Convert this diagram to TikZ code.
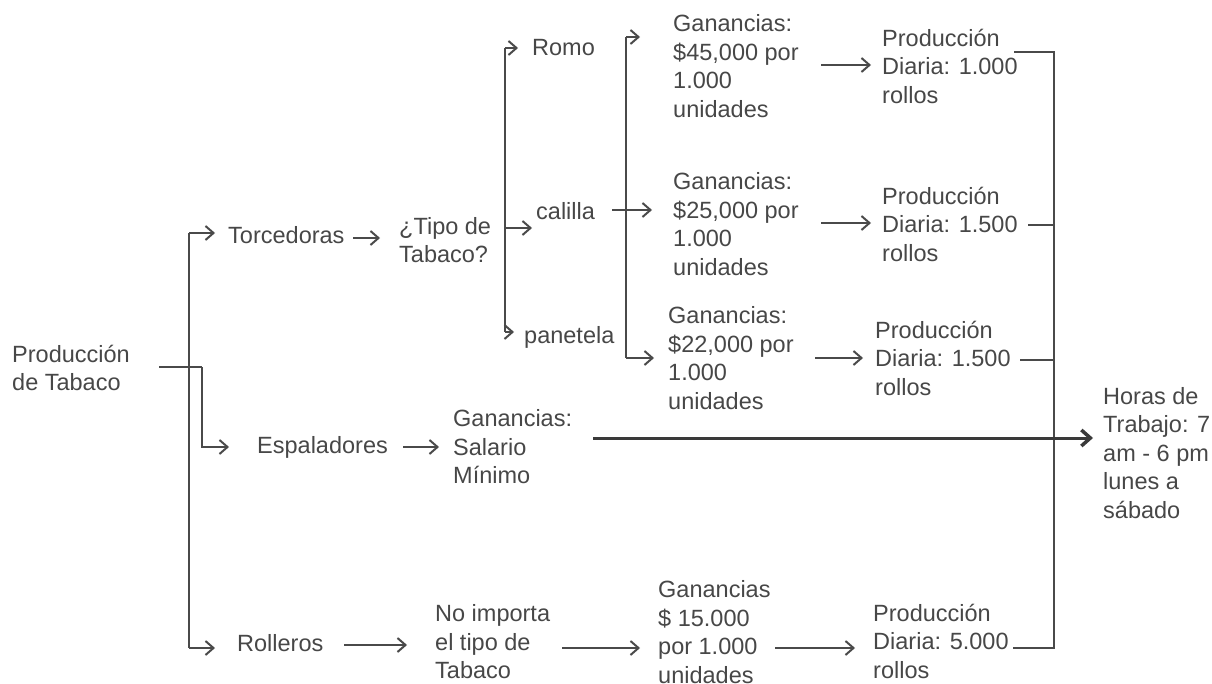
\documentclass[tikz,border=0pt]{standalone}
\usepackage{fontspec}
\setmainfont{Liberation Sans}
\usetikzlibrary{arrows.meta}
\definecolor{tc}{HTML}{474747}
\definecolor{lc}{HTML}{4A4A4A}
\definecolor{dc}{HTML}{3A3A3A}
\tikzset{
  txt/.style={anchor=west, align=left, inner sep=0pt, text=tc,
    font=\fontsize{23.5}{28.5}\selectfont},
  ln/.style={draw=lc, line width=2pt},
  arr/.style={ln, -{Straight Barb[length=8pt,width=14pt,line width=2pt]}},
  bigarr/.style={draw=dc, line width=3pt, -{Straight Barb[length=9pt,width=16pt,line width=3.5pt]}}
}
\begin{document}
\begin{tikzpicture}[x=1pt,y=-1pt]
\useasboundingbox (0,0) rectangle (1212,684);

% nodes
\node[txt] (root) at (12,368) {Producción\\de Tabaco};
\node[txt] (torc) at (228,235) {Torcedoras};
\node[txt] (tipo) at (399,240) {¿Tipo de\\Tabaco?};
\node[txt] (romo) at (532,48) {Romo};
\node[txt] (cal) at (536,211) {calilla};
\node[txt] (pan) at (524,337) {panetela};
\node[txt] (g45) at (673,66) {Ganancias:\\\$45,000 por\\1.000\\unidades};
\node[txt] (g25) at (673,224) {Ganancias:\\\$25,000 por\\1.000\\unidades};
\node[txt] (g22) at (668,358) {Ganancias:\\\$22,000 por\\1.000\\unidades};
\node[txt] (p1) at (882,66) {Producción\\Diaria: 1.000\\rollos};
\node[txt] (p2) at (882,224) {Producción\\Diaria: 1.500\\rollos};
\node[txt] (p3) at (875,358) {Producción\\Diaria: 1.500\\rollos};
\node[txt] (esp) at (257,447) {Espaladores};
\node[txt] (gsal) at (453,447) {Ganancias:\\Salario\\Mínimo};
\node[txt] (horas) at (1103,453) {Horas de\\Trabajo: 7\\am - 6 pm\\lunes a\\sábado};
\node[txt] (roll) at (237,643) {Rolleros};
\node[txt] (noimp) at (435,642) {No importa\\el tipo de\\Tabaco};
\node[txt] (g15) at (658,632) {Ganancias\\\$ 15.000\\por 1.000\\unidades};
\node[txt] (p5) at (873,641) {Producción\\Diaria: 5.000\\rollos};

% junction coordinates
\coordinate (r0) at (159,367);
\coordinate (vt) at (189,233);
\coordinate (vb) at (189,648);
\coordinate (ve) at (202,367);
\coordinate (b2t) at (505,48);
\coordinate (b2m) at (505,228);
\coordinate (b2b) at (505,332);
\coordinate (b3t) at (626,37);
\coordinate (b3b) at (626,358);
\coordinate (rt) at (1054,52);
\coordinate (rb) at (1054,648);

% root fan-out
\draw[ln] (r0) -- (ve);
\draw[ln] (vt) -- (vb);
\draw[arr] (vt) -- ++(26,0);
\draw[arr] (vb) -- ++(26,0);
\draw[arr] (ve) -- (ve |- esp.west) -- ++(27,0);

% Torcedoras branch
\draw[arr] (353,238) -- (380,238);
\draw[ln] (b2t) -- (b2b);
\draw[arr] (b2t) -- ++(13,0);
\draw[arr] (b2m) -- ++(27,0);
\draw[arr] (b2b) -- ++(9,0);

\draw[arr] (612,210) -- (652,210);
\draw[ln] (b3t) -- (b3b);
\draw[arr] (b3t) -- ++(14,0);
\draw[arr] (b3b) -- ++(28,0);

\draw[arr] (821,65) -- (871,65);
\draw[arr] (821,223) -- (871,223);
\draw[arr] (815,358) -- (863,358);

% right collector
\draw[ln] (1014,52) -- (rt) -- (rb) -- (1013,648);
\draw[ln] (1028,225) -- (1054,225);
\draw[ln] (1020,360) -- (1054,360);

% Espaladores branch
\draw[arr] (403,447) -- (439,447);
\draw[bigarr] (593,438) -- (1093,438);

% Rolleros branch
\draw[arr] (344,645) -- (407,645);
\draw[arr] (562,648) -- (640,648);
\draw[arr] (775,648) -- (855,648);
\end{tikzpicture}
\end{document}
